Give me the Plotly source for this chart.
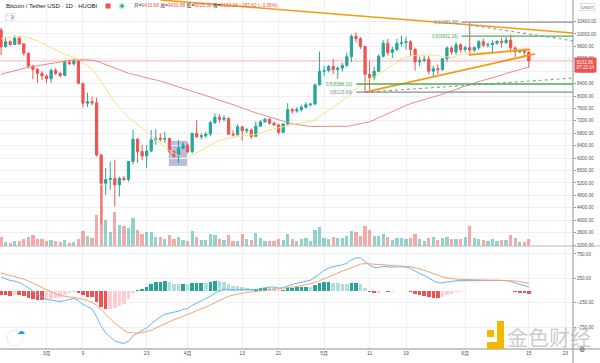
import numpy as np
import pandas as pd
import plotly.graph_objects as go

W, H = 600, 363

# ---------------- data ----------------
# closes before the visible window (2019-12-22 .. 2020-02-19), used only to warm up the indicators
warmup_closes = [7511, 7317, 7255, 7204, 7202, 7254, 7316, 7388, 7246, 7179,
                 7200, 6985, 7344, 7410, 7411, 7769, 8163, 8079, 7879, 8166,
                 8037, 8192, 8110, 8810, 8821, 8720, 8913, 8916, 8700, 8627,
                 8723, 8660, 8386, 8428, 8325, 8597, 8909, 9359, 9301, 9509,
                 9350, 9392, 9344, 9294, 9181, 9614, 9760, 9805, 9906, 10163,
                 9852, 10270, 10351, 10237, 10364, 9900, 9934, 9690, 10141, 10130]

dates = pd.date_range("2020-02-20", "2020-06-15", freq="D")

opens = [10130, 9590, 9750, 9660, 9870, 9680, 9380, 8970, 8860, 8730,
         8650, 8560, 8830, 8730, 8660, 9090, 9040, 9130, 8410, 7770,
         7820, 7780, 6100, 5190, 5310, 5340, 5140, 5350, 5310, 5890,
         6610, 6210, 6070, 6230, 6590, 6640, 6610, 6630, 6210, 6070,
         6320, 6420, 6210, 6800, 6690, 6720, 6780, 7145, 7320, 7250,
         7285, 6770, 6750, 7010, 6880, 6910, 6700, 7030, 7170, 7250,
         7124, 7070, 6830, 7100, 7560, 7520, 7560, 7640, 7720, 7740,
         8360, 8800, 8820, 8950, 8850, 8900, 8990, 9270, 9930, 9850,
         9600, 8700, 8600, 8800, 9280, 9700, 9400, 9500, 9700, 9720,
         9750, 9500, 9100, 9150, 9180, 8800, 8880, 8850, 9200, 9550,
         9420, 9650, 9500, 9560, 9480, 9560, 9750, 9640, 9660, 9700,
         9760, 9720, 9800, 9550, 9430, 9460, 9419.68]
highs = [10200, 9900, 9800, 9960, 9930, 9700, 9400, 9000, 8900, 8800,
         8700, 8880, 8900, 8780, 9150, 9180, 9200, 9160, 8420, 8110,
         7980, 7950, 6150, 5680, 5890, 5940, 5400, 5420, 5900, 6910,
         6650, 6420, 6420, 6910, 6930, 6800, 6850, 6660, 6240, 6580,
         6520, 6500, 6810, 7230, 6800, 6850, 7200, 7440, 7420, 7380,
         7300, 6900, 7100, 7030, 6980, 6950, 7180, 7220, 7300, 7290,
         7180, 7100, 7130, 7770, 7620, 7640, 7720, 7800, 7780, 8400,
         9430, 8980, 9000, 9190, 8950, 9080, 9400, 9990, 10050, 9900,
         9620, 9120, 8950, 9350, 9800, 9840, 9590, 9850, 9950, 9900,
         9800, 9560, 9270, 9300, 9300, 8980, 9020, 9230, 9600, 9600,
         9740, 9700, 9620, 10381.88, 9600, 9800, 9850, 9730, 9800, 9800,
         9880, 9900, 9990, 9600, 9500, 9500, 9430.88]
lows = [9320, 9560, 9620, 9640, 9650, 9300, 8890, 8540, 8420, 8520,
        8410, 8420, 8680, 8600, 8640, 9000, 8980, 8380, 7630, 7650,
        7700, 6050, 3850, 4810, 4980, 4440, 4760, 5250, 5250, 5800,
        5840, 5940, 5670, 6200, 6430, 6530, 6480, 6150, 6000, 5840,
        6280, 6150, 6150, 6640, 6600, 6650, 6700, 7100, 7150, 7180,
        6750, 6700, 6740, 6560, 6800, 6620, 6680, 7000, 7140, 7080,
        7040, 6760, 6800, 7050, 7430, 7460, 7500, 7600, 7660, 7720,
        8350, 8640, 8760, 8700, 8550, 8790, 8930, 9100, 9730, 9520,
        8123.64, 8200, 8500, 8780, 9250, 9300, 9230, 9450, 9600, 9500,
        9300, 8820, 8960, 9090, 8700, 8630, 8700, 8820, 9100, 9330,
        9330, 9400, 9420, 9290, 9420, 9480, 9580, 9560, 9400, 9650,
        9570, 9680, 9400, 9250, 9380, 9300, 8915]
closes = [9590, 9750, 9660, 9870, 9680, 9380, 8970, 8860, 8730, 8650,
          8560, 8830, 8730, 8660, 9090, 9040, 9130, 8410, 7770, 7820,
          7780, 6100, 5190, 5310, 5340, 5140, 5350, 5310, 5890, 6610,
          6210, 6070, 6230, 6590, 6640, 6610, 6630, 6210, 6070, 6320,
          6420, 6210, 6800, 6690, 6720, 6780, 7145, 7320, 7250, 7285,
          6770, 6750, 7010, 6880, 6910, 6700, 7030, 7170, 7250, 7124,
          7070, 6830, 7100, 7560, 7520, 7560, 7640, 7720, 7740, 8360,
          8800, 8820, 8950, 8850, 8900, 8990, 9270, 9930, 9850, 9600,
          8700, 8600, 8800, 9280, 9700, 9400, 9500, 9700, 9720, 9750,
          9500, 9100, 9150, 9180, 8800, 8880, 8850, 9200, 9550, 9420,
          9650, 9500, 9560, 9480, 9560, 9750, 9640, 9660, 9700, 9760,
          9720, 9800, 9550, 9430, 9460, 9419.68, 9132.06]
volume_k = [9, 4, 3, 5, 5, 7, 9, 11, 7, 7,
            5, 6, 5, 4, 6, 3, 4, 7, 15, 10,
            8, 31, 61, 26, 14, 34, 21, 20, 18, 28,
            16, 12, 14, 14, 9, 9, 7, 11, 7, 9,
            6, 5, 15, 9, 6, 6, 12, 11, 7, 6,
            11, 5, 5, 12, 7, 6, 13, 8, 5, 5,
            5, 7, 6, 12, 7, 5, 7, 8, 5, 16,
            19, 8, 7, 9, 8, 8, 10, 15, 14, 10,
            20, 16, 10, 10, 12, 9, 6, 8, 8, 7,
            8, 12, 7, 5, 8, 9, 6, 8, 9, 7,
            7, 7, 9, 20, 8, 7, 6, 5, 7, 5,
            6, 6, 11, 8, 4, 4, 7]

ma_fast_len, ma_slow_len = 20, 60

tick_dates = ["2020-03-01", "2020-03-09", "2020-03-23", "2020-04-01", "2020-04-13", "2020-04-21",
              "2020-05-01", "2020-05-11", "2020-05-19", "2020-06-01", "2020-06-15", "2020-06-23"]
tick_text = ["3月", "9", "23", "4月", "13", "21", "5月", "11", "19", "6月", "15", "23"]
price_ticks = list(range(3200, 10401, 400))
macd_ticks = [-750, -250, 250, 750]

last_price = 9132.06
header_name = "Bitcoin / Tether USD · 1D · HUOBI"
ohlc_labels = ["开", "高", "低", "收"]
ohlc_values = ["9419.68", "9430.88", "8915.00", "9132.06"]
change_text = "−287.62 (−3.05%)"

# drawings (date, price)
trend_a = (["2020-03-26", "2020-06-25"], [11094, 10028])
trend_b = (["2020-05-10", "2020-06-16 08:00"], [8123.64, 9356])
trend_c = (["2020-06-02", "2020-06-15 07:00"], [9324, 9507])
trend_d = (["2020-06-02", "2020-06-28"], [10290, 9708])
trend_e = (["2020-05-10", "2020-06-28"], [8123.64, 8611])
box_dates = ["2020-03-27 21:00", "2020-04-01 02:00"]
box_prices = [5750, 6555]
fib_upper = {"start": "2020-05-31 05:00", "levels": [("0", 10381.88), ("0.5", 9932.26)]}
fib_lower = {"start": "2020-05-08 02:00", "levels": [("0", 8123.64), ("0.5", 8388.12)]}

# ---------------- indicators ----------------
allc = pd.Series(warmup_closes + closes, dtype=float)
nw = len(warmup_closes)
ma_fast = allc.rolling(ma_fast_len).mean().iloc[nw:].values
ma_slow = allc.rolling(ma_slow_len, min_periods=1).mean().iloc[nw:].values
ema12 = allc.ewm(span=12, adjust=False).mean()
ema26 = allc.ewm(span=26, adjust=False).mean()
macd = ema12 - ema26
signal = macd.ewm(span=9, adjust=False).mean()
hist = (macd - signal)
macd_v = macd.iloc[nw:].values
sig_v = signal.iloc[nw:].values
hist_all = hist.values
hist_v = hist_all[nw:]
hist_colors = []
for i in range(nw, len(hist_all)):
    h, p = hist_all[i], hist_all[i - 1]
    if h >= 0:
        hist_colors.append("#26a69a" if h > p else "#b2dfdb")
    else:
        hist_colors.append("#ef5350" if h < p else "#ffcdd2")

UP, DN = "#26a69a", "#ef5350"
vol_colors = ["rgba(38,166,154,0.5)" if c >= o else "rgba(239,83,80,0.5)" for o, c in zip(opens, closes)]
volumes = [v * 1000 for v in volume_k]

# ---------------- geometry ----------------
PLOT_R = 573
PRICE_BOTTOM = 246
MACD_BOTTOM = 349
day0 = pd.Timestamp("2020-02-19")
px_per_day = 4.55
x_off = -3.5
x_range = [day0 + pd.Timedelta(days=(0 - x_off) / px_per_day),
           day0 + pd.Timedelta(days=(PLOT_R - x_off) / px_per_day)]
price_range = [3168, 11095]
macd_range = [-1199, 912]

def fx(x):
    return x / W

def fy(y):
    return 1 - y / H

day_ms = 86400000

fig = go.Figure()

# volume (overlay axis)
fig.add_trace(go.Bar(x=dates, y=volumes, marker=dict(color=vol_colors, line=dict(width=0)),
                     width=0.72 * day_ms, xaxis="x2", yaxis="y2", hoverinfo="skip"))
# moving averages
fig.add_trace(go.Scatter(x=dates, y=ma_slow, mode="lines", line=dict(color="#ee8a86", width=1),
                         xaxis="x2", yaxis="y", hoverinfo="skip"))
fig.add_trace(go.Scatter(x=dates, y=ma_fast, mode="lines", line=dict(color="#f9e27d", width=1),
                         xaxis="x2", yaxis="y", hoverinfo="skip"))
# candles
fig.add_trace(go.Candlestick(x=dates, open=opens, high=highs, low=lows, close=closes,
                             increasing=dict(line=dict(color=UP, width=1), fillcolor=UP),
                             decreasing=dict(line=dict(color=DN, width=1), fillcolor=DN),
                             whiskerwidth=0, xaxis="x2", yaxis="y", hoverinfo="skip"))
# trend lines
for tl, col, wd, dash in [(trend_a, "#f39c12", 1.6, "solid"), (trend_b, "#f39c12", 1.8, "solid"),
                          (trend_c, "#f39c12", 1.8, "solid"), (trend_d, "#9598a1", 1.1, "dot"),
                          (trend_e, "#9598a1", 1.1, "dot")]:
    fig.add_trace(go.Scatter(x=tl[0], y=tl[1], mode="lines", line=dict(color=col, width=wd, dash=dash),
                             xaxis="x2", yaxis="y", hoverinfo="skip"))

# MACD
fig.add_trace(go.Bar(x=dates, y=hist_v, marker=dict(color=hist_colors, line=dict(width=0)),
                     width=0.78 * day_ms, xaxis="x", yaxis="y3", hoverinfo="skip"))
fig.add_trace(go.Scatter(x=dates, y=macd_v, mode="lines", line=dict(color="#64b5f6", width=1),
                         xaxis="x", yaxis="y3", hoverinfo="skip"))
fig.add_trace(go.Scatter(x=dates, y=sig_v, mode="lines", line=dict(color="#f6a46b", width=1),
                         xaxis="x", yaxis="y3", hoverinfo="skip"))

shapes = []
annotations = []
# blue highlight box
shapes.append(dict(type="rect", xref="x2", yref="y", x0=box_dates[0], x1=box_dates[1],
                   y0=box_prices[0], y1=box_prices[1], fillcolor="rgba(121,134,203,0.55)",
                   line=dict(width=0), layer="below"))
# last price line
shapes.append(dict(type="line", xref="x2 domain", yref="y", x0=0, x1=1, y0=last_price, y1=last_price,
                   line=dict(color="rgba(239,83,80,0.45)", width=1)))
# fib levels
for fib in (fib_upper, fib_lower):
    for name, val in fib["levels"]:
        col = "#4caf50" if name == "0.5" else "#8a8d96"
        shapes.append(dict(type="line", xref="x2", yref="y", x0=fib["start"], x1=x_range[1],
                           y0=val, y1=val, line=dict(color=col, width=1.3)))
        annotations.append(dict(xref="x2", yref="y", x=fib["start"], y=val, text=f"{name}({val:.2f})",
                                showarrow=False, xanchor="right", yanchor="middle", xshift=-1,
                                font=dict(size=4.6, color=col, family="Liberation Sans")))
# pane separators / borders
shapes.append(dict(type="line", xref="paper", yref="paper", x0=0, x1=1, y0=fy(PRICE_BOTTOM), y1=fy(PRICE_BOTTOM),
                   line=dict(color="#b8bbc4", width=1)))
shapes.append(dict(type="line", xref="paper", yref="paper", x0=0, x1=1, y0=fy(MACD_BOTTOM), y1=fy(MACD_BOTTOM),
                   line=dict(color="#8c8f98", width=1)))
shapes.append(dict(type="line", xref="paper", yref="paper", x0=fx(PLOT_R), x1=fx(PLOT_R), y0=0, y1=1,
                   line=dict(color="#8c8f98", width=1)))

# header
annotations.append(dict(xref="paper", yref="paper", x=fx(4), y=fy(6), text=header_name, showarrow=False,
                        xanchor="left", yanchor="middle", font=dict(size=6, color="#131722", family="Liberation Sans")))
shapes.append(dict(type="rect", xref="paper", yref="paper", x0=fx(105.5), x1=fx(110.5), y0=fy(8.5), y1=fy(3.5),
                   fillcolor="#ef5350", line=dict(width=0)))
shapes.append(dict(type="circle", xref="paper", yref="paper", x0=fx(118.5), x1=fx(125.5), y0=fy(9.5), y1=fy(2.5),
                   fillcolor="#c8ece6", line=dict(width=0)))
shapes.append(dict(type="circle", xref="paper", yref="paper", x0=fx(120.3), x1=fx(123.7), y0=fy(7.7), y1=fy(4.3),
                   fillcolor="#26a69a", line=dict(width=0)))
ohlc_html = " ".join(f"<span style='color:#131722'>{l}=</span>{v}" for l, v in zip(ohlc_labels, ohlc_values))
annotations.append(dict(xref="paper", yref="paper", x=fx(132), y=fy(6), text=ohlc_html + " " + change_text,
                        showarrow=False, xanchor="left", yanchor="middle",
                        font=dict(size=4.8, color="#ef5350", family="Liberation Sans, Noto Sans CJK SC")))
annotations.append(dict(xref="paper", yref="paper", x=fx(5), y=fy(17), text="˅ 3", showarrow=False,
                        xanchor="left", yanchor="middle", bordercolor="#d1d4dc", borderwidth=0.6, borderpad=1,
                        font=dict(size=4.8, color="#131722", family="DejaVu Sans")))
# right side labels
annotations.append(dict(xref="paper", yref="paper", x=fx(587), y=fy(7), text="USDT", showarrow=False,
                        xanchor="center", yanchor="middle", bordercolor="#c8cbd3", borderwidth=0.6, borderpad=1,
                        bgcolor="#ffffff", font=dict(size=4.4, color="#50535e", family="Liberation Sans")))
annotations.append(dict(xref="paper", yref="paper", x=fx(574), y=fy(65), text=f"{last_price:.2f}<br>07:22:14",
                        showarrow=False, xanchor="left", yanchor="middle", bgcolor="#ef5350", borderpad=1.5,
                        align="left", font=dict(size=4.6, color="#ffffff", family="Liberation Sans")))
# watermark
shapes.append(dict(type="rect", xref="paper", yref="paper", x0=fx(487), x1=fx(494), y0=fy(337), y1=fy(330),
                   fillcolor="#f5b800", line=dict(width=0)))
shapes.append(dict(type="rect", xref="paper", yref="paper", x0=fx(497), x1=fx(504), y0=fy(349), y1=fy(321),
                   fillcolor="#f5b800", line=dict(width=0)))
shapes.append(dict(type="rect", xref="paper", yref="paper", x0=fx(487), x1=fx(504), y0=fy(349), y1=fy(342),
                   fillcolor="#f5b800", line=dict(width=0)))
annotations.append(dict(xref="paper", yref="paper", x=fx(549), y=fy(336), text="金色财经", showarrow=False,
                        xanchor="center", yanchor="middle",
                        font=dict(size=21, color="rgba(190,190,190,0.8)", family="Noto Sans CJK SC")))
# cloud + gear icons
shapes.append(dict(type="circle", xref="paper", yref="paper", x0=fx(7), x1=fx(23), y0=fy(346), y1=fy(330),
                   fillcolor="#ffffff", line=dict(color="#e0e3eb", width=0.8)))
annotations.append(dict(xref="paper", yref="paper", x=fx(15), y=fy(338), text="☁", showarrow=False,
                        font=dict(size=8, color="#2196f3", family="DejaVu Sans")))
annotations.append(dict(xref="paper", yref="paper", x=fx(587), y=fy(356), text="⚙", showarrow=False,
                        font=dict(size=7, color="#50535e", family="DejaVu Sans")))

axis_font = dict(size=4.6, color="#50535e", family="Liberation Sans")
grid_col = "#eef0f5"

fig.update_layout(
    width=W, height=H, margin=dict(l=0, r=0, t=0, b=0, pad=0),
    paper_bgcolor="#ffffff", plot_bgcolor="#ffffff", showlegend=False, hovermode=False,
    bargap=0,
    xaxis=dict(domain=[0, fx(PLOT_R)], anchor="y3", type="date", range=x_range, automargin=False,
               tickvals=tick_dates, ticktext=tick_text, tickfont=dict(size=5, color="#50535e",
               family="Liberation Sans, Noto Sans CJK SC"),
               showgrid=True, gridcolor=grid_col, gridwidth=1, zeroline=False, showline=False, ticks="",
               rangeslider=dict(visible=False)),
    xaxis2=dict(domain=[0, fx(PLOT_R)], anchor="y", matches="x", type="date", range=x_range, automargin=False,
                tickvals=tick_dates, showticklabels=False, showgrid=True, gridcolor=grid_col,
                zeroline=False, showline=False, ticks="", rangeslider=dict(visible=False)),
    yaxis=dict(domain=[fy(PRICE_BOTTOM), 1], anchor="x2", side="right", range=price_range, automargin=False,
               tickvals=price_ticks, tickformat=".2f", tickfont=axis_font, showgrid=True, gridcolor=grid_col,
               zeroline=False, showline=False, ticks="outside", ticklen=2, tickcolor="#9598a1"),
    yaxis2=dict(domain=[fy(PRICE_BOTTOM), 1], anchor="x2", overlaying="y", range=[0, PRICE_BOTTOM * 1000],
                visible=False, automargin=False),
    yaxis3=dict(domain=[fy(MACD_BOTTOM), fy(PRICE_BOTTOM)], anchor="x", side="right", range=macd_range,
                automargin=False,
                tickvals=macd_ticks, tickformat=".2f", tickfont=axis_font, showgrid=True, gridcolor=grid_col,
                zeroline=False, showline=False, ticks="outside", ticklen=2, tickcolor="#9598a1"),
    shapes=shapes, annotations=annotations,
)

fig.write_html("out.html", config={"displayModeBar": False, "staticPlot": True},
               post_script="document.body.style.margin='0px';document.body.style.padding='0px';"
                           "document.body.style.overflow='hidden';")
